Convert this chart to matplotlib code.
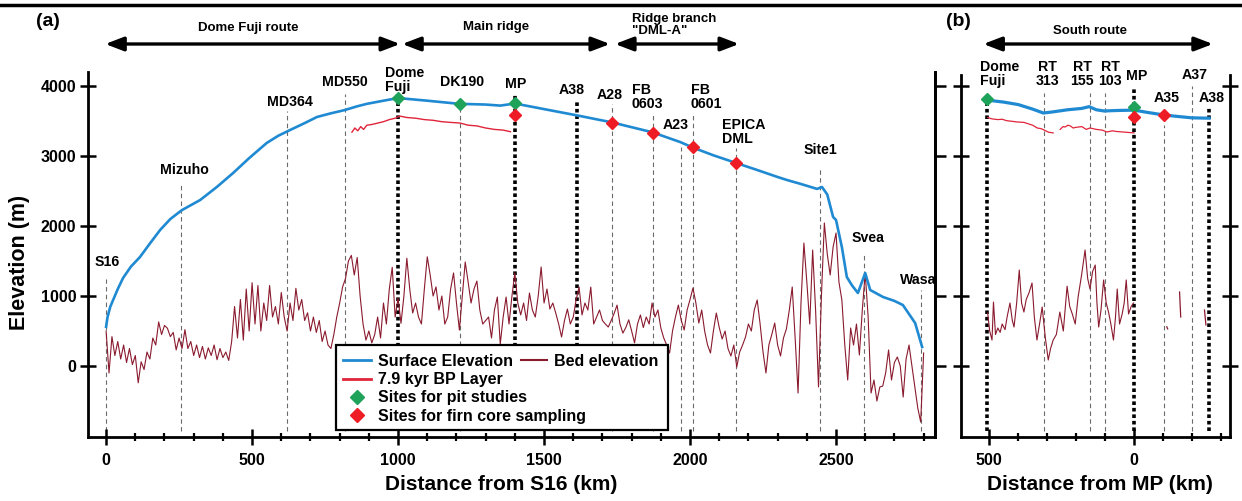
import numpy as np
import matplotlib
matplotlib.use('Agg')
import matplotlib.pyplot as plt
from matplotlib.lines import Line2D
from matplotlib.patches import Rectangle
import matplotlib.transforms as mtrans

plt.rcParams['font.family'] = ['Liberation Sans', 'DejaVu Sans']
plt.rcParams['font.weight'] = 'bold'
plt.rcParams['axes.labelweight'] = 'bold'

# ---------------- data: panel (a) ----------------
surf_km = [0, 5, 14, 24, 40, 58, 85, 116, 150, 185, 220, 260, 322, 380, 435, 490, 550, 590, 630, 680,
           722, 770, 818, 860, 893, 950, 1000, 1100, 1210, 1300, 1350, 1400, 1500, 1613, 1733, 1870,
           1966, 2010, 2080, 2158, 2230, 2300, 2332, 2380, 2435, 2452, 2470, 2490, 2500, 2520, 2537,
           2555, 2575, 2600, 2617, 2661, 2700, 2729, 2771, 2795]
surf_m = [560, 700, 843, 943, 1100, 1257, 1420, 1557, 1750, 1943, 2100, 2228, 2371, 2560, 2757, 2970,
          3186, 3290, 3371, 3470, 3557, 3610, 3657, 3710, 3745, 3790, 3828, 3790, 3745, 3735, 3720,
          3750, 3670, 3580, 3480, 3340, 3200, 3120, 3010, 2900, 2800, 2700, 2657, 2600, 2530, 2557,
          2450, 2129, 2086, 1700, 1271, 1150, 1043, 1329, 1086, 986, 930, 871, 614, 271]

layer_km = [842, 852, 862, 872, 882, 893, 910, 930, 950, 970, 990, 1006, 1030, 1060, 1090, 1120, 1150,
            1180, 1212, 1240, 1270, 1300, 1330, 1360, 1385]
layer_m = [3340, 3400, 3360, 3420, 3380, 3440, 3450, 3470, 3490, 3520, 3540, 3570, 3550, 3540, 3520,
           3510, 3490, 3480, 3471, 3440, 3430, 3400, 3380, 3370, 3347]

bed_step_km = 10
bed_m = [500, -100, 420, 150, 350, 100, 300, 50, 250, 20, 150, -240, 60, -50, 200, 100, 400, 300, 630, 450,
         580, 540, 420, 480, 230, 400, 250, 520, 250, 350, 150, 300, 120, 280, 100, 260, 150, 300, 90, 250,
         120, 200, 80, 350, 850, 400, 950, 370, 1100, 500, 1190, 600, 1150, 500, 900, 650, 1150, 700, 850, 600,
         1050, 700, 500, 900, 650, 1110, 800, 950, 650, 760, 500, 700, 480, 650, 350, 500, 300, 250, 450, 700,
         900, 1130, 1250, 1500, 1580, 1300, 1550, 1000, 600, 370, 500, 330, 450, 700, 400, 900, 600, 1100, 1410, 700,
         970, 610, 1000, 1540, 1100, 757, 900, 700, 600, 1100, 1560, 1300, 1000, 1130, 800, 1000, 600, 700, 1100, 1330,
         900, 514, 1000, 1486, 1200, 900, 1100, 1214, 800, 600, 650, 700, 400, 800, 986, 314, 700, 986, 600, 1000,
         1330, 900, 730, 900, 650, 1043, 800, 700, 1000, 1414, 900, 1100, 814, 900, 757, 600, 414, 650, 814, 600,
         700, 950, 1128, 730, 900, 800, 1128, 600, 700, 800, 650, 600, 557, 650, 750, 870, 600, 470, 550, 660,
         500, 330, 600, 729, 550, 700, 600, 900, 700, 800, 543, 400, 300, 186, 500, 700, 871, 650, 514, 800,
         950, 1114, 900, 614, 800, 500, 300, 186, 500, 757, 550, 386, 500, 250, 143, 300, -14, 200, 300, 414,
         600, 500, 800, 943, 600, 200, -100, 300, 450, 614, 300, 143, 400, 529, 800, 1129, 400, -386, 900, 1757,
         1200, 600, 1657, 800, -300, 1000, 2043, 1600, 1300, 1700, 1900, 1200, 943, 300, -200, 543, 300, 600, 157, 800,
         1329, 700, -386, -200, -500, -300, -286, -100, 229, -200, 50, 129, 0, -443, 100, 300, 0, -300, -600, -800,
         186]
bed_km = np.arange(len(bed_m)) * bed_step_km

pit_km = [1000, 1212, 1400]
pit_m = [3828, 3745, 3757]
firn_km = [1400, 1733, 1872, 2010, 2158]
firn_m = [3580, 3476, 3333, 3133, 2895]

left_sites = ['S16', 'Mizuho', 'MD364', 'MD550', 'Dome Fuji', 'DK190', 'MP', 'A38', 'A28',
              'FB 0603', 'A23', 'FB 0601', 'EPICA DML', 'Site1', 'Svea', 'Wasa']
left_site_km = [0, 257, 621, 818, 1000, 1212, 1400, 1613, 1733, 1872, 1970, 2010, 2158, 2445, 2596, 2790]
left_line_top = [1250, 2600, 3650, 3880, 3830, 3700, 3900, 3800, 3750, 3600, 3130, 3590, 3110, 2840, 1610, 1080]
left_thick = ['Dome Fuji', 'MP', 'A38']

left_labels = ['S16', 'Mizuho', 'MD364', 'MD550', 'Dome\nFuji', 'DK190', 'MP', 'A38', 'A28',
               'FB\n0603', 'A23', 'FB\n0601', 'EPICA\nDML', 'Site1', 'Svea', 'Wasa']
left_label_km = [5, 270, 630, 818, 955, 1219, 1404, 1596, 1726, 1801, 1949, 2003, 2110, 2445, 2610, 2783]
left_label_m = [1490, 2800, 3771, 4057, 4086, 4061, 4029, 3943, 3871, 3850, 3443, 3850, 3350, 3086, 1829, 1229]
left_label_ha = ['center', 'center', 'center', 'center', 'left', 'center', 'center', 'center', 'center',
                 'left', 'center', 'left', 'left', 'center', 'center', 'center']

# ---------------- data: panel (b) ----------------
surf_r_km = [510, 450, 400, 350, 313, 280, 230, 180, 155, 130, 103, 60, 0, -50, -103, -150, -200, -259]
surf_r_m = [3800, 3770, 3735, 3670, 3614, 3630, 3660, 3680, 3705, 3660, 3643, 3650, 3655, 3620, 3586,
            3565, 3545, 3540]

layer_r1_km = [505, 490, 470, 455, 440, 420, 403, 380, 365, 350, 334, 320, 310, 295, 279]
layer_r1_m = [3550, 3530, 3520, 3525, 3505, 3495, 3486, 3480, 3460, 3440, 3400, 3390, 3370, 3340, 3330]
layer_r2_km = [255, 245, 238, 228, 220, 210, 200, 180, 165, 152, 130, 110, 93, 75, 60, 45, 30, 15, 0]
layer_r2_m = [3380, 3420, 3414, 3440, 3430, 3400, 3410, 3420, 3380, 3400, 3380, 3370, 3343, 3360, 3350,
              3345, 3340, 3335, 3330]

bed_r_km = [505, 498, 490, 485, 478, 470, 462, 455, 445, 438, 428, 420, 414, 405, 396, 388, 380, 372, 362, 352,
            344, 335, 326, 317, 306, 296, 288, 279, 268, 256, 244, 231, 222, 213, 203, 193, 181, 169, 160, 152,
            143, 134, 128, 122, 114, 105, 96, 88, 80, 71, 64, 58, 50, 41, 34, 27, 19, 10, 2]
bed_r_m = [757, 500, 371, 914, 450, 543, 480, 600, 520, 700, 900, 650, 557, 900, 1371, 900, 771, 950, 1050, 1186,
           700, 371, 600, 843, 400, 86, 250, 371, 450, 771, 500, 1140, 850, 743, 600, 986, 1300, 1657, 1250, 1100,
           1350, 1443, 900, 557, 800, 1229, 900, 771, 600, 371, 700, 1100, 600, 743, 900, 1229, 743, 850, 900]
bed_r_bits_km = [[-113, -116], [-157, -161], [-243, -248]]
bed_r_bits_m = [[560, 530], [1057, 700], [800, 586]]

pit_r_km = [507, 0]
pit_r_m = [3810, 3700]
firn_r_km = [0, -105]
firn_r_m = [3557, 3586]

right_sites = ['Dome Fuji', 'RT 313', 'RT 155', 'RT 103', 'MP', 'A35', 'A37', 'A38']
right_site_km = [507, 310, 152, 100, 0, -105, -200, -259]
right_line_top = [3800, 3900, 3900, 3900, 3970, 3440, 4000, 3690]
right_thick = ['Dome Fuji', 'MP', 'A38']
right_labels = ['Dome\nFuji', 'RT\n313', 'RT\n155', 'RT\n103', 'MP', 'A35', 'A37', 'A38']
right_label_km = [531, 300, 179, 83, -10, -114, -210, -269]
right_label_m = [4171, 4171, 4171, 4171, 4143, 3829, 4157, 3829]
right_label_ha = ['left', 'center', 'center', 'center', 'center', 'center', 'center', 'center']

y_ticks = [0, 1000, 2000, 3000, 4000]

# ---------------- styles ----------------
C_SURF = '#1f8ad2'
C_LAYER = '#e0243a'
C_BED = '#8a1a2e'
C_PIT = '#1fa35a'
C_FIRN = '#ee1c25'

W, H = 1242, 501
fig = plt.figure(figsize=(W / 100, H / 100), dpi=100)


def fx(px):
    return px / W


def fy(py):
    return 1 - py / H


axL = fig.add_axes([fx(88), fy(437), fx(935) - fx(88), fy(72) - fy(437)])
axR = fig.add_axes([fx(961), fy(437), fx(1230) - fx(961), fy(75) - fy(437)])

axL.set_xlim(-62, 2839)
axL.set_ylim(-1014, 4200)
axR.set_xlim(597, -331)
axR.set_ylim(-1014, 4157)

V_BOT = -930


def draw_sites(ax, names, kms, tops, thick):
    for n, k, t in zip(names, kms, tops):
        if n in thick:
            ax.plot([k, k], [V_BOT, t], color='k', lw=2.6, ls=(0, (1.0, 0.8)), zorder=1.5,
                    solid_capstyle='butt', dash_capstyle='butt')
        else:
            ax.plot([k, k], [V_BOT, t], color='#6a6a6a', lw=0.8, ls=(0, (4, 3)), zorder=1.4)


draw_sites(axL, left_sites, left_site_km, left_line_top, left_thick)
draw_sites(axR, right_sites, right_site_km, right_line_top, right_thick)

# panel (a) data
axL.plot(bed_km, bed_m, color=C_BED, lw=0.8, zorder=2)
axL.plot(layer_km, layer_m, color=C_LAYER, lw=1.0, zorder=3)
axL.plot(surf_km, surf_m, color=C_SURF, lw=1.9, zorder=4)
axL.plot(pit_km, pit_m, ls='none', marker='D', ms=6.5, color=C_PIT, zorder=5)
axL.plot(firn_km, firn_m, ls='none', marker='D', ms=6.5, color=C_FIRN, zorder=5)

# panel (b) data
axR.plot(bed_r_km, bed_r_m, color=C_BED, lw=0.8, zorder=2)
for bk, bm in zip(bed_r_bits_km, bed_r_bits_m):
    axR.plot(bk, bm, color=C_BED, lw=0.9, zorder=2)
axR.plot(layer_r1_km, layer_r1_m, color=C_LAYER, lw=0.9, zorder=3)
axR.plot(layer_r2_km, layer_r2_m, color=C_LAYER, lw=0.9, zorder=3)
axR.plot(surf_r_km, surf_r_m, color=C_SURF, lw=2.3, zorder=4)
axR.plot(pit_r_km, pit_r_m, ls='none', marker='D', ms=6.5, color=C_PIT, zorder=5, clip_on=False)
axR.plot(firn_r_km, firn_r_m, ls='none', marker='D', ms=6.5, color=C_FIRN, zorder=5)

# site labels
for t, k, m, ha in zip(left_labels, left_label_km, left_label_m, left_label_ha):
    axL.text(k, m, t, ha=ha, va='center', fontsize=10.2, fontweight='bold', linespacing=1.0,
             zorder=6, clip_on=False)
for t, k, m, ha in zip(right_labels, right_label_km, right_label_m, right_label_ha):
    axR.text(k, m, t, ha=ha, va='center', fontsize=10.2, fontweight='bold', linespacing=1.0,
             zorder=6, clip_on=False)

# spines and ticks
for ax in (axL, axR):
    ax.spines['top'].set_visible(False)
    for s in ('left', 'right', 'bottom'):
        ax.spines[s].set_linewidth(2.0)
    ax.set_yticks(y_ticks)

axL.set_xticks([0, 500, 1000, 1500, 2000, 2500])
axL.set_xticks(np.arange(0, 2801, 100), minor=True)
axL.tick_params(axis='x', which='major', direction='inout', length=11.5, width=1.8,
                labelsize=11.5, pad=6)
axL.tick_params(axis='x', which='minor', direction='inout', length=6, width=1.6)
axL.tick_params(axis='y', which='major', direction='inout', length=11, width=1.8,
                labelsize=11.5, pad=3, left=True, right=False)
sec = axL.secondary_yaxis('right')
sec.set_yticks(y_ticks)
sec.tick_params(direction='out', length=8, width=1.8, labelright=False)
sec.spines['right'].set_linewidth(2.0)
sec.set_zorder(-1)

axR.set_xticks([500, 0])
axR.set_xticks(np.arange(-300, 501, 100), minor=True)
axR.tick_params(axis='x', which='major', direction='inout', length=11.5, width=1.8,
                labelsize=11.5, pad=6)
axR.tick_params(axis='x', which='minor', direction='inout', length=6, width=1.6)
axR.tick_params(axis='y', which='major', direction='inout', length=12, width=1.8,
                left=True, right=True, labelleft=False, labelright=False)

for lab in axL.get_xticklabels() + axL.get_yticklabels() + axR.get_xticklabels():
    lab.set_fontweight('bold')

axL.set_xlabel('Distance from S16 (km)', fontsize=15, fontweight='bold')
axL.xaxis.label.set_va('center')
axL.xaxis.set_label_coords((501 - 88) / 847, (437 - 484) / 365)
axL.set_ylabel('Elevation (m)', fontsize=15.5, fontweight='bold')
axL.yaxis.label.set_va('center')
axL.yaxis.set_label_coords((20 - 88) / 847, (437 - 262) / 365)
axR.set_xlabel('Distance from MP (km)', fontsize=15, fontweight='bold')
axR.xaxis.label.set_va('center')
axR.xaxis.set_label_coords((1100 - 961) / 269, (437 - 484) / 362)

# route arrows (data x, figure y)
trL = mtrans.blended_transform_factory(axL.transData, fig.transFigure)
trR = mtrans.blended_transform_factory(axR.transData, fig.transFigure)
ay = fy(44)
arrow_kw = dict(arrowstyle='<|-|>,head_length=1.1,head_width=0.42', mutation_scale=10,
                lw=2.4, color='k', shrinkA=0, shrinkB=0)
for (x0, x1), tr, ax in [((-3, 1007), trL, axL), ((1014, 1726), trL, axL),
                         ((1743, 2168), trL, axL), ((520, -272), trR, axR)]:
    ax.annotate('', xy=(x1, ay), xytext=(x0, ay), xycoords=tr, textcoords=tr,
                arrowprops=arrow_kw, annotation_clip=False)

fig.text(fx(248), fy(28), 'Dome Fuji route', ha='center', va='center', fontsize=9.5, fontweight='bold')
fig.text(fx(496), fy(27), 'Main ridge', ha='center', va='center', fontsize=9.5, fontweight='bold')
fig.text(fx(632), fy(25), 'Ridge branch\n"DML-A"', ha='left', va='center', fontsize=9.5,
         fontweight='bold', linespacing=1.05)
fig.text(fx(1090), fy(31), 'South route', ha='center', va='center', fontsize=9.5, fontweight='bold')
fig.text(fx(48), fy(22), '(a)', ha='center', va='center', fontsize=14, fontweight='bold')
fig.text(fx(958), fy(22), '(b)', ha='center', va='center', fontsize=14, fontweight='bold')

# top border line
fig.add_artist(Line2D([0, 1], [fy(5), fy(5)], color='k', lw=2.5, transform=fig.transFigure))

# legend box
rect = Rectangle((fx(336), fy(430)), fx(668) - fx(336), fy(345) - fy(430), transform=fig.transFigure,
                 facecolor='white', edgecolor='k', lw=1.6, zorder=5)
fig.add_artist(rect)
h_surf = Line2D([], [], color=C_SURF, lw=2.0)
h_layer = Line2D([], [], color=C_LAYER, lw=2.0)
h_bed = Line2D([], [], color=C_BED, lw=1.5)
h_pit = Line2D([], [], ls='none', marker='D', ms=7, color=C_PIT)
h_firn = Line2D([], [], ls='none', marker='D', ms=7, color=C_FIRN)
leg_font = {'size': 11.5, 'weight': 'bold'}
leg1 = fig.legend([h_surf, h_layer, h_pit, h_firn],
                  ['Surface Elevation', '7.9 kyr BP Layer', 'Sites for pit studies',
                   'Sites for firn core sampling'],
                  loc='upper left', bbox_to_anchor=(fx(343), fy(354)), frameon=False, prop=leg_font,
                  borderpad=0, borderaxespad=0, handlelength=1.75, handletextpad=0.45, labelspacing=0.2)
leg1.set_zorder(6)
leg2 = fig.legend([h_bed], ['Bed elevation'], loc='upper left', bbox_to_anchor=(fx(521), fy(354)),
                  frameon=False, prop=leg_font, borderpad=0, borderaxespad=0, handlelength=1.6,
                  handletextpad=0.45)
leg2.set_zorder(6)

fig.savefig('out.png', dpi=100)
